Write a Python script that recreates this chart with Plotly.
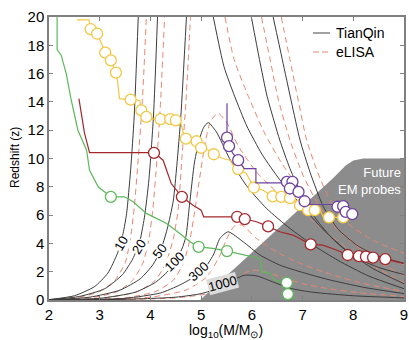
import plotly.graph_objects as go

# ---------------- data ----------------
X_TICKS = [2, 3, 4, 5, 6, 7, 8, 9]
Z_TICKS = [0, 2, 4, 6, 8, 10, 12, 14, 16, 18, 20]

# TianQin SNR contours (left / right branches)
TQ10_L_X = [2.0, 2.5, 2.9, 3.16, 3.35, 3.46, 3.53, 3.61, 3.68, 3.76]
TQ10_L_Z = [0.03, 0.3, 0.95, 1.9, 3.3, 4.7, 6.1, 9.2, 13.0, 20.0]
TQ10_R_X = [6.42, 6.6, 6.78, 6.95, 7.15, 7.41, 7.7, 8.1, 8.5, 9.0]
TQ10_R_Z = [20.0, 17.0, 14.0, 11.3, 9.0, 6.6, 5.0, 3.8, 3.1, 2.6]

TQ20_L_X = [2.0, 2.6, 3.1, 3.45, 3.65, 3.78, 3.88, 3.97, 4.06, 4.14]
TQ20_L_Z = [0.02, 0.25, 0.8, 1.8, 2.9, 4.0, 5.8, 8.5, 13.0, 20.0]
TQ20_R_X = [5.99, 6.15, 6.3, 6.45, 6.55, 6.75, 7.0, 7.27, 7.6, 8.0, 8.5, 9.0]
TQ20_R_Z = [20.0, 17.0, 14.4, 12.5, 11.3, 9.3, 7.3, 5.7, 4.3, 3.1, 2.3, 1.8]

TQ50_L_X = [2.0, 2.8, 3.4, 3.8, 4.05, 4.2, 4.33, 4.45, 4.52, 4.6, 4.71]
TQ50_L_Z = [0.01, 0.2, 0.7, 1.5, 2.5, 3.5, 5.0, 7.0, 9.5, 13.0, 20.0]
TQ50_R_X = [5.24, 5.45, 5.66, 5.9, 6.2, 6.55, 6.95, 7.4, 7.9, 8.4, 9.0]
TQ50_R_Z = [20.0, 16.5, 14.4, 12.3, 10.3, 8.5, 6.8, 5.0, 3.4, 2.2, 1.15]

TQ100_X = [2.0, 3.0, 3.7, 4.1, 4.35, 4.5, 4.62, 4.7, 4.77, 4.87, 4.97, 5.05, 5.14,
           5.3, 5.56, 5.89, 6.29, 6.75, 7.2, 7.7, 8.3, 9.0]
TQ100_Z = [0.01, 0.12, 0.55, 1.25, 2.05, 2.8, 3.6, 4.5, 6.7, 9.76, 11.4, 12.2, 12.54,
           11.88, 10.0, 8.1, 6.47, 5.06, 3.9, 2.8, 1.7, 0.8]

TQ300_X = [2.0, 3.5, 4.2, 4.58, 4.85, 5.04, 5.24, 5.37, 5.53,
           5.83, 6.16, 6.55, 6.95, 7.5, 8.2, 9.0]
TQ300_Z = [0.0, 0.12, 0.5, 1.06, 1.6, 2.1, 3.18, 4.35, 4.82,
           4.11, 3.18, 2.47, 2.0, 1.45, 0.9, 0.45]

TQ1000_X = [2.0, 3.5, 4.5, 5.0, 5.35, 5.6, 5.85, 6.1, 6.4, 6.75, 7.2, 8.0, 9.0]
TQ1000_Z = [0.0, 0.05, 0.2, 0.45, 0.85, 1.35, 1.75, 1.7, 1.3, 0.83, 0.55, 0.3, 0.15]

# eLISA SNR contours
EL10_L_X = [2.0, 2.6, 3.0, 3.3, 3.5, 3.6, 3.68, 3.76, 3.84, 3.92]
EL10_L_Z = [0.0, 0.2, 0.6, 1.4, 2.6, 4.2, 6.5, 10.0, 14.0, 20.0]
EL10_R_X = [6.58, 6.75, 6.92, 7.08, 7.3, 7.55, 7.9, 8.4, 9.0]
EL10_R_Z = [20.0, 17.0, 14.0, 11.3, 9.0, 7.0, 5.4, 4.2, 3.3]

EL20_L_X = [2.1, 2.9, 3.35, 3.65, 3.85, 3.97, 4.05, 4.13, 4.2, 4.28]
EL20_L_Z = [0.0, 0.2, 0.6, 1.4, 2.6, 4.3, 6.5, 10.0, 14.0, 20.0]
EL20_R_X = [6.19, 6.36, 6.52, 6.75, 7.0, 7.3, 7.7, 8.2, 9.0]
EL20_R_Z = [20.0, 17.0, 14.2, 11.3, 8.9, 6.8, 5.0, 3.6, 2.5]

EL50_L_X = [2.3, 3.2, 3.75, 4.1, 4.3, 4.45, 4.55, 4.62, 4.7, 4.79]
EL50_L_Z = [0.0, 0.2, 0.6, 1.4, 2.6, 4.3, 6.5, 10.0, 14.0, 20.0]
EL50_R_X = [5.47, 5.65, 5.93, 6.25, 6.6, 7.0, 7.5, 8.0, 8.5, 9.0]
EL50_R_Z = [20.0, 17.0, 14.4, 11.8, 9.6, 7.6, 5.6, 4.0, 2.7, 1.7]

EL100_X = [2.5, 3.5, 4.1, 4.45, 4.65, 4.78, 4.87, 4.97, 5.07, 5.18, 5.33,
           5.5, 5.73, 6.09, 6.49, 6.91, 7.4, 7.9, 8.4, 9.0]
EL100_Z = [0.0, 0.15, 0.6, 1.4, 2.6, 4.3, 6.2, 8.6, 10.9, 12.6, 13.2,
           12.58, 10.9, 9.05, 7.64, 6.47, 5.0, 3.6, 2.4, 1.2]

EL300_X = [2.7, 4.0, 4.7, 5.1, 5.35, 5.5, 5.65, 5.8, 6.09, 6.49, 6.88, 7.4, 8.1, 9.0]
EL300_Z = [0.0, 0.2, 0.7, 1.6, 3.0, 4.3, 5.2, 5.3, 4.35, 3.4, 2.7, 2.0, 1.25, 0.6]

EL1000_X = [3.0, 4.5, 5.2, 5.6, 5.85, 6.05, 6.3, 6.6, 7.0, 7.6, 8.3, 9.0]
EL1000_Z = [0.0, 0.15, 0.5, 1.2, 1.9, 2.1, 1.95, 1.6, 1.15, 0.75, 0.45, 0.25]

# contour labels
LABEL_TEXT = ["10", "20", "50", "100", "300", "1000"]
LABEL_X = [3.42, 3.78, 4.18, 4.48, 4.95, 5.43]
LABEL_Z = [4.0, 3.76, 3.41, 2.7, 2.0, 1.18]
LABEL_ANGLE = [-60, -58, -53, -45, -42, -15]

# Future EM probes region
EM_X = [4.98, 7.6, 7.85, 8.0, 8.2, 9.0, 9.0]
EM_Z = [0.0, 8.6, 9.5, 9.85, 10.0, 10.0, 0.0]

# population tracks
GREEN_X = [2.16, 2.16, 2.24, 2.34, 2.44, 2.57, 2.74, 2.8, 2.97, 3.22, 3.49, 3.66, 3.92,
           4.32, 4.58, 4.78, 4.95, 5.23, 5.51, 5.89, 6.16, 6.2, 6.35, 6.45, 6.69, 6.71, 6.83]
GREEN_Z = [20.0, 17.7, 17.3, 16.0, 14.1, 12.0, 10.6, 9.17, 8.0, 7.29, 7.29, 6.94, 6.12,
           5.41, 4.7, 4.12, 3.76, 3.65, 3.46, 3.18, 2.94, 2.0, 1.88, 1.41, 1.22, 0.42, 0.12]
GREEN_CX = [3.22, 4.95, 5.51, 6.69, 6.71]
GREEN_CZ = [7.29, 3.76, 3.46, 1.22, 0.42]

RED_X = [2.59, 2.64, 2.7, 2.8, 4.07, 4.25, 4.41, 4.62, 4.84, 5.0, 5.05, 5.71, 5.86,
         6.09, 6.32, 6.55, 6.81, 7.16, 7.4, 7.67, 7.89, 8.11, 8.25, 8.39, 8.63, 8.98]
RED_Z = [14.23, 13.2, 11.8, 10.42, 10.42, 9.88, 8.23, 7.29, 6.7, 6.35, 5.88, 5.88, 5.72,
         5.53, 5.2, 4.82, 4.59, 3.93, 3.88, 3.53, 3.18, 3.1, 3.06, 3.0, 2.89, 2.59]
RED_CX = [4.07, 4.62, 5.71, 5.86, 6.32, 7.16, 7.89, 8.11, 8.25, 8.39, 8.63]
RED_CZ = [10.4, 7.29, 5.88, 5.72, 5.2, 3.93, 3.18, 3.1, 3.06, 3.0, 2.89]

YELLOW_X = [2.55, 2.79, 2.82, 2.95, 3.05, 3.11, 3.22, 3.32, 3.35, 3.39, 3.61, 3.79, 3.82,
            3.92, 4.05, 4.2, 4.39, 4.5, 4.6, 4.65, 4.7, 4.91, 5.0, 5.14, 5.25, 5.43, 5.57,
            5.63, 5.73, 5.89, 5.96, 6.04, 6.22, 6.32, 6.41, 6.58, 6.75, 6.85, 6.95, 7.11,
            7.24, 7.35, 7.4, 7.52, 7.8]
YELLOW_Z = [19.8, 19.8, 19.15, 18.82, 18.0, 17.48, 16.93, 16.07, 15.5, 14.23, 14.16, 14.1,
            13.4, 12.94, 12.8, 12.78, 12.78, 12.7, 12.5, 11.8, 11.4, 11.22, 10.75, 10.6, 10.3,
            10.0, 9.88, 9.53, 9.25, 8.94, 8.47, 7.95, 7.76, 7.53, 7.32, 7.29, 7.2, 7.0, 6.7,
            6.35, 6.35, 6.35, 5.9, 5.84, 5.84]
YELLOW_CX = [2.82, 2.95, 3.11, 3.22, 3.32, 3.61, 3.82, 3.92, 4.2, 4.39, 4.5, 4.7, 4.91, 5.0,
             5.25, 5.73, 6.04, 6.41, 6.58, 6.75, 6.95, 7.11, 7.24, 7.52, 7.8]
YELLOW_CZ = [19.15, 18.82, 17.48, 16.93, 16.07, 14.16, 13.4, 12.94, 12.78, 12.78, 12.7, 11.4,
             11.22, 10.75, 10.3, 9.25, 7.95, 7.32, 7.29, 7.2, 6.7, 6.35, 6.35, 5.84, 5.84]

PURPLE_X = [5.51, 5.51, 5.55, 5.62, 5.73, 5.8, 5.85, 6.08, 6.08, 6.69, 6.8, 6.75, 6.92,
            6.98, 7.04, 7.1, 7.65, 7.69, 7.8, 7.85, 7.98]
PURPLE_Z = [13.9, 11.48, 10.87, 10.4, 9.88, 9.5, 9.29, 9.29, 8.28, 8.28, 8.35, 7.88, 7.64,
            7.3, 6.98, 6.75, 6.75, 6.59, 6.63, 6.23, 6.07]
PURPLE_CX = [5.51, 5.55, 5.73, 6.69, 6.8, 6.75, 6.92, 7.04, 7.69, 7.8, 7.85, 7.98]
PURPLE_CZ = [11.48, 10.87, 9.88, 8.35, 8.35, 7.88, 7.64, 6.98, 6.59, 6.63, 6.23, 6.07]

# ---------------- styling ----------------
TQ_COLOR = "#3c3c3c"
EL_COLOR = "#e8866f"
GREEN = "#5cb85a"
RED = "#a3282c"
YELLOW = "#f2c744"
PURPLE = "#6e42a0"
FONT = "Liberation Sans, Arial, sans-serif"

# the page body margin is removed (post_script below), so figure pixels = page pixels;
# plot box lands at x 49..404, y 17..300
W, H = 409, 340
L, R, T, B = 49, 5, 17, 40
PW, PH = W - L - R, H - T - B


def px(xp):  # page pixel -> paper x
    return (xp - L) / PW


def py(yp):  # page pixel -> paper y
    return (H - B - yp) / PH


fig = go.Figure()

# EM region
fig.add_trace(go.Scatter(x=EM_X, y=EM_Z, fill="toself", fillcolor="#8c8c8c",
                         line=dict(width=0, color="#8c8c8c"), mode="lines",
                         hoverinfo="skip", showlegend=False))


def add_curve(xs, zs, color, dash):
    fig.add_trace(go.Scatter(x=xs, y=zs, mode="lines",
                             line=dict(color=color, width=1, dash=dash,
                                       shape="spline", smoothing=0.6),
                             hoverinfo="skip", showlegend=False))


tq = [(TQ10_L_X, TQ10_L_Z), (TQ10_R_X, TQ10_R_Z), (TQ20_L_X, TQ20_L_Z), (TQ20_R_X, TQ20_R_Z),
      (TQ50_L_X, TQ50_L_Z), (TQ50_R_X, TQ50_R_Z), (TQ100_X, TQ100_Z), (TQ300_X, TQ300_Z),
      (TQ1000_X, TQ1000_Z)]
el = [(EL10_L_X, EL10_L_Z), (EL10_R_X, EL10_R_Z), (EL20_L_X, EL20_L_Z), (EL20_R_X, EL20_R_Z),
      (EL50_L_X, EL50_L_Z), (EL50_R_X, EL50_R_Z), (EL100_X, EL100_Z), (EL300_X, EL300_Z),
      (EL1000_X, EL1000_Z)]
for xs, zs in el:
    add_curve(xs, zs, EL_COLOR, "6px,4px")
for xs, zs in tq:
    add_curve(xs, zs, TQ_COLOR, "solid")


def add_track(xs, zs, cx, cz, color):
    fig.add_trace(go.Scatter(x=xs, y=zs, mode="lines", line=dict(color=color, width=1.2),
                             hoverinfo="skip", showlegend=False))
    fig.add_trace(go.Scatter(x=cx, y=cz, mode="markers",
                             marker=dict(size=11, color="white",
                                         line=dict(color=color, width=1.3)),
                             hoverinfo="skip", showlegend=False))


add_track(GREEN_X, GREEN_Z, GREEN_CX, GREEN_CZ, GREEN)
add_track(RED_X, RED_Z, RED_CX, RED_CZ, RED)
add_track(YELLOW_X, YELLOW_Z, YELLOW_CX, YELLOW_CZ, YELLOW)
add_track(PURPLE_X, PURPLE_Z, PURPLE_CX, PURPLE_CZ, PURPLE)


def note(x, y, text, size, color="black", xanchor="center", ref="paper", **kw):
    return dict(x=x, y=y, xref=ref, yref=ref if ref == "paper" else "y", text=text,
                showarrow=False, xanchor=xanchor, yanchor="middle",
                font=dict(family=FONT, size=size, color=color), **kw)


annotations = []
for t, x, z, a in zip(LABEL_TEXT, LABEL_X, LABEL_Z, LABEL_ANGLE):
    annotations.append(note(x, z, t, 13, ref="x", textangle=a,
                            bgcolor="#dcdcdc" if t == "1000" else "white", borderpad=0))
annotations.append(note(px(403), py(181), "Future<br>EM probes", 13, color="white",
                        xanchor="right", align="right"))
# manual legend
annotations.append(note(px(334), py(33), "TianQin", 14, xanchor="left"))
annotations.append(note(px(334), py(52), "eLISA", 14, xanchor="left"))
# axis titles
annotations.append(note(px(15), py(158), "Redshift (z)", 12, textangle=-90))
annotations.append(note(px(226), py(331), "log<sub>10</sub>(M/M<sub>⊙</sub>)", 14))

shapes = [
    dict(type="line", xref="paper", yref="paper", x0=px(313), x1=px(330),
         y0=py(33), y1=py(33), line=dict(color="#707070", width=1.3)),
    dict(type="line", xref="paper", yref="paper", x0=px(313), x1=px(330),
         y0=py(52), y1=py(52), line=dict(color=EL_COLOR, width=1.2, dash="6px,3px")),
]

axis_common = dict(showline=True, linecolor="#808080", linewidth=1.5, mirror="ticks",
                   ticks="inside", ticklen=4, tickcolor="#808080", tickwidth=1,
                   showgrid=False, zeroline=False, automargin=False,
                   tickfont=dict(family=FONT, size=15, color="black"))

fig.update_layout(
    width=W, height=H,
    margin=dict(l=L, r=R, t=T, b=B, autoexpand=False),
    paper_bgcolor="white", plot_bgcolor="white",
    showlegend=False,
    xaxis=dict(range=[2, 9], tickvals=X_TICKS, ticktext=[str(v) for v in X_TICKS],
               **axis_common),
    yaxis=dict(range=[0, 20], tickvals=Z_TICKS, ticktext=[str(v) for v in Z_TICKS],
               **axis_common),
    annotations=annotations,
    shapes=shapes,
)

fig.write_html(
    "out.html",
    config={"displayModeBar": False},
    post_script="document.body.style.margin='0';document.body.style.overflow='hidden';",
)
